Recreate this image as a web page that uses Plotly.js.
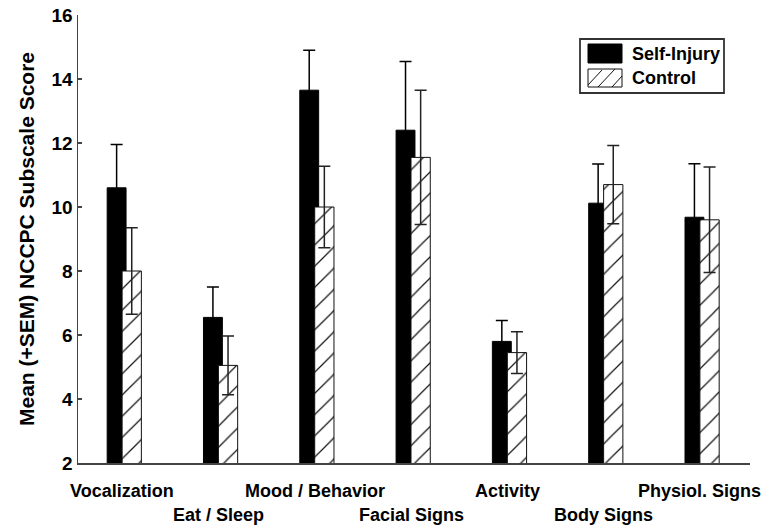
<!DOCTYPE html>
<html>
<head>
<meta charset="utf-8">
<script src="https://cdn.plot.ly/plotly-3.0.1.min.js"></script>
<style>
  html, body { margin: 0; padding: 0; background: #fff; }
  #chart { width: 766px; height: 531px; }
</style>
</head>
<body>
<div id="chart"></div>
<script>
// ---- data ----
const categories = ['Vocalization', 'Eat / Sleep', 'Mood / Behavior', 'Facial Signs', 'Activity', 'Body Signs', 'Physiol. Signs'];
const selfInjury    = [10.6, 6.55, 13.65, 12.4, 5.8, 10.12, 9.68];
const selfInjurySEM = [1.35, 0.95, 1.25, 2.15, 0.65, 1.22, 1.67];
const control       = [8.0, 5.05, 10.0, 11.55, 5.45, 10.7, 9.6];
const controlSEM    = [1.35, 0.92, 1.27, 2.1, 0.65, 1.22, 1.65];
const yTickVals = [2, 4, 6, 8, 10, 12, 14, 16];
const seriesNames = ['Self-Injury', 'Control'];
const yTitle = 'Mean (+SEM) NCCPC Subscale Score';

// ---- layout helpers ----
const W = 766, H = 531;
const M = {l: 78, r: 16, t: 15, b: 68};
const PW = W - M.l - M.r, PH = H - M.t - M.b;
const px = x => (x - M.l) / PW;          // pixel -> paper x
const py = y => (H - M.b - y) / PH;      // pixel -> paper y
const FONT = 'Liberation Sans, Arial, sans-serif';

const xs = categories.map((c, i) => i);

const traceSI = {
  type: 'bar', name: seriesNames[0], x: xs, y: selfInjury,
  offset: -0.155, width: 0.196,
  marker: {color: '#000', line: {color: '#000', width: 1}},
  error_y: {type: 'data', array: selfInjurySEM, visible: true, color: '#000', thickness: 1.5, width: 6},
  showlegend: false, hoverinfo: 'skip'
};
const traceC = {
  type: 'bar', name: seriesNames[1], x: xs, y: control,
  offset: 0, width: 0.2,
  marker: {color: '#fff', line: {color: '#111', width: 1},
           pattern: {shape: '/', fgcolor: '#111', bgcolor: '#fff', size: 15, solidity: 0.08}},
  error_y: {type: 'data', array: controlSEM, visible: true, color: '#222', thickness: 1.5, width: 6},
  showlegend: false, hoverinfo: 'skip'
};

const annotations = categories.map((c, i) => ({
  x: i, xref: 'x', y: 0, yref: 'paper', yanchor: 'middle', xanchor: 'center',
  yshift: (i % 2 === 0) ? -28 : -52, text: '<b>' + c + '</b>', showarrow: false,
  font: {family: FONT, size: 18, color: '#000'}
}));

// legend (custom, drawn as shapes + text)
const shapes = [
  {type: 'rect', xref: 'paper', yref: 'paper', x0: px(580), x1: px(724), y0: py(93), y1: py(39),
   line: {color: '#333', width: 1.8}, fillcolor: '#fff'},
  {type: 'rect', xref: 'paper', yref: 'paper', x0: px(588), x1: px(622), y0: py(63), y1: py(44),
   line: {color: '#000', width: 1}, fillcolor: '#000'},
  {type: 'rect', xref: 'paper', yref: 'paper', x0: px(588), x1: px(622), y0: py(87), y1: py(69),
   line: {color: '#111', width: 1}, fillcolor: '#fff'}
];
const hatchSegs = [[588, 85, 602, 70], [598, 87, 615, 69], [612, 87, 622, 76]];
hatchSegs.forEach(s => shapes.push({
  type: 'line', xref: 'paper', yref: 'paper', x0: px(s[0]), y0: py(s[1]), x1: px(s[2]), y1: py(s[3]),
  line: {color: '#111', width: 1}
}));
seriesNames.forEach((n, i) => annotations.push({
  x: px(630), y: py(i === 0 ? 54 : 78), xref: 'paper', yref: 'paper', xanchor: 'left', yanchor: 'middle',
  text: '<b>' + n + '</b>', showarrow: false, font: {family: FONT, size: 18, color: '#000'}
}));

const layout = {
  width: W, height: H,
  margin: M,
  paper_bgcolor: '#fff', plot_bgcolor: '#fff',
  barmode: 'overlay',
  showlegend: false,
  font: {family: FONT, color: '#000'},
  xaxis: {
    range: [-0.458, 6.52], showgrid: false, zeroline: false, showticklabels: false,
    ticks: '', showline: true, linecolor: '#444', linewidth: 1.5, fixedrange: true
  },
  yaxis: {
    range: [2, 16], tickvals: yTickVals, ticktext: yTickVals.map(v => '<b>' + v + '</b>'),
    showgrid: false, zeroline: false, showline: true, linecolor: '#444', linewidth: 1.5,
    ticks: 'inside', ticklen: 4, tickcolor: '#444', tickwidth: 1.5,
    tickfont: {family: FONT, size: 19, color: '#000', weight: 'bold'},
    title: {text: '<b>' + yTitle + '</b>', font: {family: FONT, size: 21, color: '#000'}, standoff: 11},
    automargin: false, fixedrange: true
  },
  shapes: shapes,
  annotations: annotations
};

Plotly.newPlot('chart', [traceSI, traceC], layout, {staticPlot: true, displayModeBar: false});
</script>
</body>
</html>
